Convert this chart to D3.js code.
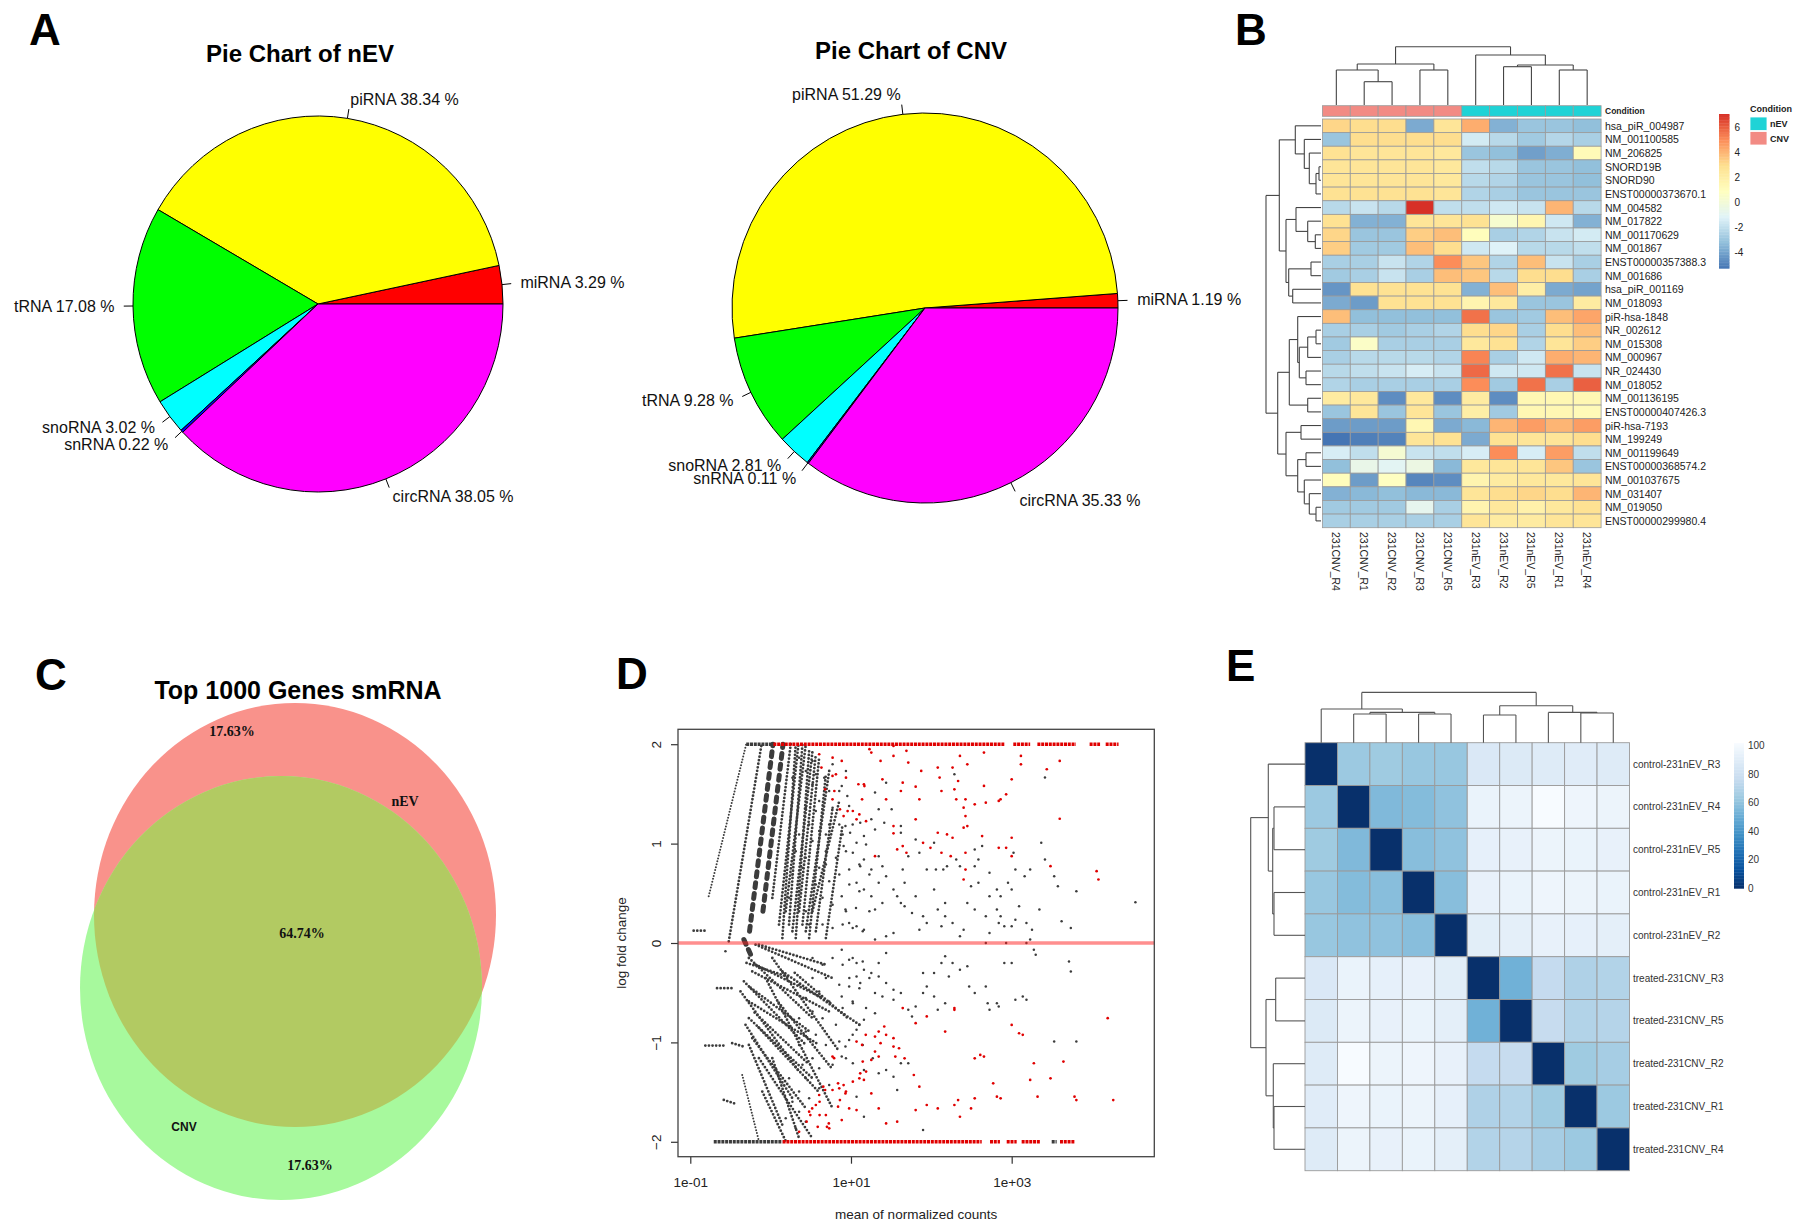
<!DOCTYPE html>
<html>
<head>
<meta charset="utf-8">
<script src="https://cdn.jsdelivr.net/npm/d3@7/dist/d3.min.js"></script>
<style>
html,body{margin:0;padding:0;background:#fff;}
svg{display:block;font-family:"Liberation Sans",Arial,Helvetica,sans-serif;}
</style>
</head>
<body>
<svg id="fig" width="1800" height="1228" viewBox="0 0 1800 1228"></svg>
<script>
// ================= DATA =================
// Panel A – pie charts
const pieCategories = ["miRNA","piRNA","tRNA","snoRNA","snRNA","circRNA"];
const pieColors = ["#FF0000","#FFFF00","#00FF00","#00FFFF","#0000FF","#FF00FF"];
const nEVPercent = [3.29, 38.34, 17.08, 3.02, 0.22, 38.05];
const CNVPercent = [1.19, 51.29, 9.28, 2.81, 0.11, 35.33];

// Panel B – heatmap of top genes
const bColumns = ["231CNV_R4","231CNV_R1","231CNV_R2","231CNV_R3","231CNV_R5","231nEV_R3","231nEV_R2","231nEV_R5","231nEV_R1","231nEV_R4"];
const bCondition = ["CNV","CNV","CNV","CNV","CNV","nEV","nEV","nEV","nEV","nEV"];
const bRows = ["hsa_piR_004987","NM_001100585","NM_206825","SNORD19B","SNORD90","ENST00000373670.1","NM_004582","NM_017822","NM_001170629","NM_001867","ENST00000357388.3","NM_001686","hsa_piR_001169","NM_018093","piR-hsa-1848","NR_002612","NM_015308","NM_000967","NR_024430","NM_018052","NM_001136195","ENST00000407426.3","piR-hsa-7193","NM_199249","NM_001199649","ENST00000368574.2","NM_001037675","NM_031407","NM_019050","ENST00000299980.4"];
const bValues = [
 [3.2,3.0,3.0,-3.8,2.6,4.2,-3.6,-3.0,-3.0,-3.2],
 [-3.0,3.0,3.0,3.0,3.0,-1.5,-2.2,-2.8,-2.3,-2.6],
 [2.8,2.6,2.6,2.6,2.4,-3.0,-3.2,-4.1,-3.7,1.2],
 [2.6,2.6,2.6,2.6,2.4,-2.0,-2.2,-3.0,-3.0,-3.2],
 [2.6,2.6,2.6,2.6,2.4,-2.2,-2.4,-3.0,-3.0,-3.2],
 [2.8,2.8,2.8,2.8,2.6,-2.4,-2.6,-3.0,-3.0,-3.0],
 [-2.2,-1.8,-2.2,7.06,-2.0,-2.0,-1.6,-1.8,4.0,-2.2],
 [2.8,-3.6,-3.6,2.6,2.6,2.8,0.3,1.5,-1.6,-3.6],
 [3.2,-3.0,-3.0,3.4,3.8,1.0,-2.6,-2.4,-1.8,-1.5],
 [3.4,-2.8,-2.8,3.8,3.0,-1.6,-1.2,-2.2,-2.2,-2.0],
 [-2.6,-2.6,-1.8,-2.4,5.0,3.6,-2.4,3.8,-1.8,-2.6],
 [-2.8,-2.6,-1.8,-2.6,3.8,3.6,-2.2,3.0,3.0,-2.6],
 [-4.4,2.8,2.8,2.8,2.8,-3.6,3.8,2.0,-3.8,-4.0],
 [-3.8,-4.2,2.8,2.8,2.8,1.6,2.4,-3.0,-3.0,2.2],
 [3.8,-3.2,-3.2,-3.2,-3.2,5.6,-3.0,-2.8,3.8,4.4],
 [-2.6,-2.6,-2.8,-2.6,-2.4,3.0,3.2,-2.6,3.0,3.8],
 [-2.8,0.6,-2.6,-2.6,-2.6,2.4,2.8,-2.4,2.6,3.4],
 [-2.6,-2.2,-2.2,-2.2,-2.4,5.2,-2.6,-1.6,4.2,4.0],
 [-2.2,-2.0,-1.8,-1.4,-1.8,5.8,-1.6,-1.6,5.6,-1.8],
 [-2.4,-2.6,-2.6,-2.6,-2.6,5.0,-2.8,5.6,-2.6,6.0],
 [2.2,2.4,-4.6,2.4,-4.6,2.2,-4.6,1.4,1.4,1.4],
 [-3.0,2.6,-3.0,2.6,-3.0,2.0,-2.8,1.4,1.4,1.2],
 [-4.2,-4.2,-4.2,1.4,-3.8,-3.4,4.0,4.6,4.0,4.6],
 [-5.28,-5.0,-4.9,2.6,2.8,-3.8,2.8,2.6,2.6,3.0],
 [-1.4,-2.0,0.2,-1.8,-2.0,-1.4,5.0,-1.4,4.6,-2.0],
 [-3.2,-0.6,-1.0,-0.4,-3.4,2.4,2.6,2.6,3.6,-3.0],
 [1.0,-4.2,0.8,-4.8,-4.6,1.6,2.2,2.4,2.4,2.6],
 [-3.6,-3.4,-3.2,-3.4,-3.4,2.6,3.0,3.2,3.0,4.0],
 [-2.8,-2.8,-2.8,-0.8,-2.6,1.6,2.4,1.8,2.4,2.8],
 [-2.6,-2.6,-2.6,-2.6,-2.6,2.6,2.2,2.2,2.6,2.6]
];
const bLegendTicks = [-4,-2,0,2,4,6];
// dendrograms: [height, left, right]; leaves are indices
const bColTree = [58.3, [41, [35, 0, [23.3, 1, 2]], [35, 3, 4]], [50, 5, [40, [38.3, 6, 7], [35, 8, 9]]]];
const bRowTree = [55,
  [41.7,
    [25.7, 0, [16.7, 1, [11.7, 2, [5, [2, 3, 4], 5]]]],
    [35, [25, 6, [13.3, 7, [5.7, 8, 9]]], [32.3, [10, 10, 11], [28.3, 12, 13]]]],
  [43.3,
    [31.7, [23.3, 14, [21.7, [13.3, [5, 15, 16], 17], [15, 18, 19]]], [13.3, 20, 21]],
    [35, [20, 22, 23], [23.3, [15, 24, 25], [16.7, 26, [11.7, 27, [5, 28, 29]]]]]]];

// Panel C – Venn
const vennSets = ["nEV","CNV"];
const vennPercent = [17.63, 64.74, 17.63]; // nEV only, shared, CNV only

// Panel D – MA plot (each point: [log10 mean of normalized counts, log fold change])
const maGray = [
 [3.414,1.664],[3.023,0.908],[3.414,0.840],[3.529,0.672],[3.575,0.571],[3.805,0.521],[4.540,0.410],[3.621,0.218],[3.736,0.151],[3.230,0.739],[3.161,0.672],[3.046,0.739],[2.954,0.605],[3.000,0.538],[2.816,0.538],[2.724,0.706],[2.540,0.773],[2.586,0.605],[2.494,0.571],[2.862,0.471],[2.724,0.471],[2.816,0.336],[2.862,0.269],[2.908,0.168],[3.000,0.168],[3.046,0.235],[3.092,0.370],[3.184,0.202],[3.253,0.134],[3.230,0.034],[3.345,0.336],[3.368,1.008],[2.678,0.269],[2.540,0.336],[2.448,0.403],[2.356,0.067],[2.264,0.202],[2.172,0.269],[2.172,0.403],[2.080,0.336],[2.034,0.538],[2.356,0.773],[2.310,0.840],[2.195,0.773],[2.149,0.739],[2.057,0.739],[2.034,1.008],[1.943,0.739],[1.851,0.908],[1.713,0.874],[1.805,1.042],[1.667,0.605],[1.644,0.739],[1.805,0.471],[1.897,0.269],[1.943,0.202],[1.851,0.134],[1.759,0.303],[1.667,0.370],[1.621,0.403],[1.529,0.538],[1.575,0.471],[1.529,0.101],[1.437,0.067],[1.299,0.034],[1.161,0.134],[1.069,0.168],[0.977,0.202],[0.931,0.336],[0.885,0.471],[1.253,0.471],[1.299,0.336],[1.391,0.403],[1.345,0.605],[1.437,0.672],[1.391,0.773],[1.345,0.874],[1.253,0.739],[1.161,0.538],[1.069,0.605],[0.977,0.739],[1.115,0.773],[1.161,0.840],[1.023,0.908],[0.908,0.975],[1.069,1.008],[1.161,1.076],[0.989,1.109],[1.115,1.210],[0.931,1.176],[0.977,1.378],[0.954,1.479],[0.885,1.580],[1.299,1.143],[1.253,1.244],[1.414,1.210],[1.506,1.345],[1.345,1.345],[1.299,1.513],[1.437,1.613],[1.621,1.176],[1.621,1.109],[2.632,0.975],[2.586,0.840],[2.724,0.101],[2.839,0.202],[2.931,0.000],[3.184,0.000],[2.678,0.000],[2.287,1.697],[2.126,0.168],[2.402,0.134],[2.540,0.941],
 [0.885,-0.067],[0.977,-0.168],[1.069,-0.202],[1.161,-0.269],[1.069,-0.336],[0.977,-0.437],[0.885,-0.538],[1.023,-0.605],[1.115,-0.403],[1.253,-0.303],[1.345,-0.202],[1.437,-0.101],[1.345,-0.336],[1.437,-0.403],[1.299,-0.504],[1.391,-0.538],[1.529,-0.471],[1.529,-0.571],[1.621,-0.504],[1.713,-0.672],[1.759,-0.739],[1.805,-0.639],[1.897,-0.504],[1.943,-0.437],[2.034,-0.538],[2.080,-0.672],[2.172,-0.605],[2.218,-0.336],[2.264,-0.202],[2.356,-0.269],[2.448,-0.235],[2.471,-0.437],[2.540,-0.504],[2.678,-0.437],[2.701,-0.605],[2.816,-0.605],[2.908,-0.202],[3.000,-0.202],[3.046,-0.571],[3.138,-0.538],[3.184,-0.571],[3.276,-0.067],[3.299,-0.118],[3.713,-0.185],[3.736,-0.286],[3.529,-0.992],[3.805,-0.992],[2.724,-0.672],[2.839,-0.639],[1.897,-0.303],[2.034,-0.303],[2.126,-0.202],[2.172,-0.134],[1.299,-0.706],[1.161,-0.773],[1.069,-0.874],[0.977,-0.975],[0.931,-1.042],[0.885,-1.143],[1.023,-1.210],[1.161,-1.277],[1.345,-1.311],[1.437,-1.277],[1.529,-1.345],[1.621,-1.210],[1.713,-1.210],[1.897,-1.882],[1.575,-1.479],[1.069,-1.546],[1.161,-1.748],
 [0.521,1.596],[0.604,1.428],[0.667,1.663],[0.729,1.193],[0.771,1.361],[0.854,1.529],[0.896,1.092],[0.9375,0.924],[0.8125,0.857],[0.6875,0.924],[0.604,0.756],[0.729,0.622],[0.854,0.689],[0.979,0.588],[1.104,0.521],[1.0625,0.353],[0.9375,0.319],[0.771,0.386],[0.646,0.454],[0.5625,0.588],[0.521,1.025],[0.479,1.193],[0.4375,1.361],[0.5625,1.327],[0.6875,1.092],[0.854,1.193],[1.021,1.193],[1.104,0.790],[1.1875,0.991],[1.229,0.689],[0.646,0.185],[0.771,0.151],[0.896,0.185],[1.021,0.151],[1.146,0.118],[1.229,0.319],[0.4375,0.319],[0.479,0.185],[0.354,0.521],[0.396,0.756],[0.3125,0.924],[0.354,1.092],[0.4375,0.857],[0.271,0.689],[0.229,0.454],[0.5625,1.697],[0.771,1.798],[0.9375,1.731],[0.729,1.529],[0.604,1.126],[0.6875,0.790],[0.354,1.865],[0.4375,1.731],[0.271,1.663],[0.521,1.831],
 [0.521,-0.151],[0.646,-0.218],[0.771,-0.151],[0.896,-0.218],[1.021,-0.151],[1.146,-0.185],[0.6875,-0.353],[0.854,-0.420],[0.979,-0.353],[1.104,-0.454],[0.604,-0.487],[0.729,-0.588],[0.896,-0.655],[1.021,-0.588],[0.521,-0.689],[0.646,-0.756],[0.8125,-0.823],[0.5625,-0.924],[0.6875,-1.025],[0.854,-0.991],[0.9375,-1.159],[0.771,-1.226],[0.604,-1.260],[0.521,-1.159],[0.4375,-1.361],[0.604,-1.462],[0.729,-1.428],[0.479,-1.5625],[0.354,-1.495],[0.354,-1.697],[0.4375,-1.798],[0.3125,-1.865],[0.1875,-1.764],[0.271,-1.596],[0.229,-1.361],[0.396,-1.226],[0.354,-1.025],[0.4375,-0.890],[0.354,-0.756],[0.4375,-0.554],[0.354,-0.420],[0.521,-0.353],[1.229,-0.353],[1.1875,-0.655],[1.104,-0.823],[1.146,-1.025],[1.021,-0.924],[1.271,-1.159],[-0.5625,-0.084]
];
const maRed = [
 [0.885,1.832],[0.770,1.681],[0.632,1.765],[0.678,1.546],[0.793,1.529],[0.770,1.445],[0.908,1.277],[0.862,1.345],[1.023,1.328],[1.069,1.244],[1.138,1.445],[1.161,1.597],[1.230,1.950],[1.368,1.832],[1.391,1.647],[1.529,1.983],[1.529,1.882],[1.690,1.933],[1.713,1.815],[1.874,1.731],[2.080,1.765],[2.103,1.664],[2.264,1.765],[2.333,1.630],[2.356,1.882],[2.448,1.798],[2.655,1.916],[2.655,1.580],[2.862,1.445],[2.931,1.496],[3.000,1.647],[3.115,1.882],[3.115,1.798],[3.598,1.832],[3.437,1.748],[1.253,1.916],[1.092,1.597],[1.437,1.445],[1.621,1.529],[1.644,1.613],[1.805,1.573],[1.851,1.445],[2.126,1.529],[2.287,1.546],[2.310,1.445],[2.402,1.361],[2.425,1.277],[2.448,1.176],[2.540,1.395],[2.678,1.412],[2.839,1.429],[2.425,1.445],[1.805,1.244],[1.529,1.176],[1.529,1.103],[1.644,0.975],[1.690,0.908],[1.575,0.941],[1.897,1.008],[1.989,0.958],[2.080,1.109],[2.126,0.908],[2.195,1.092],[2.264,1.059],[2.241,0.874],[2.402,1.160],[2.425,0.908],[2.425,0.739],[2.402,0.639],[2.632,1.076],[2.839,0.958],[2.931,0.958],[3.000,1.059],[3.000,0.874],[3.483,0.773],[4.057,0.723],[4.080,0.639],[1.299,0.874],[3.598,1.250],
 [0.604,1.899],[0.771,1.865],[0.8125,1.697],[0.9375,1.663],[1.167,1.579],[1.104,1.294],[1.1875,1.226],[0.958,1.327],
 [1.644,-0.655],[1.805,-0.807],[1.943,-0.739],[2.287,-0.672],[2.172,-0.891],[1.184,-0.924],[1.299,-0.941],[1.345,-0.891],[1.414,-0.840],[1.437,-0.924],[1.368,-1.008],[1.299,-1.092],[1.253,-1.176],[1.345,-1.143],[1.529,-0.958],[1.529,-1.042],[1.598,-1.059],[1.667,-1.160],[1.552,-1.143],[1.069,-0.992],[1.138,-1.025],[0.770,-1.143],[0.678,-1.479],[0.770,-1.479],[0.839,-1.412],[0.908,-1.429],[0.862,-1.580],[0.839,-1.647],[0.724,-1.815],[0.609,-1.731],[0.494,-1.731],[0.448,-1.798],[0.609,-1.597],[0.586,-1.849],[0.701,-1.849],[0.885,-1.782],[0.977,-1.664],[1.069,-1.681],[1.161,-1.378],[1.115,-1.311],[1.253,-1.513],[1.345,-1.664],[1.437,-1.815],[1.575,-1.798],[1.805,-1.681],[1.851,-1.445],[1.782,-1.328],[1.943,-1.630],[2.080,-1.664],[2.287,-1.630],[2.333,-1.580],[2.356,-1.748],[2.494,-1.664],[2.540,-1.160],[2.609,-1.126],[2.655,-1.143],[2.540,-1.563],[2.770,-1.412],[2.816,-1.546],[2.862,-1.563],[3.276,-1.210],[3.322,-1.546],[3.230,-1.378],[3.483,-1.361],[3.644,-1.193],[3.782,-1.546],[3.805,-1.580],[4.264,-1.580],[4.195,-0.756],[3.000,-0.824],[3.092,-0.908],[3.138,-0.924],[2.287,-0.655],[0.517,-1.664],[0.655,-1.445],[0.931,-1.513],[1.023,-1.395],
 [0.79,-1.159],[0.479,-1.697],[0.5625,-1.630],[0.6875,-1.731],[0.729,-1.865],[0.354,-1.899],[0.604,-1.529],[0.854,-1.462],[0.9375,-1.495],[1.104,-1.361],[1.146,-1.193],[1.1875,-1.294]
];
// dense low-count streaks of gray points: [log10 mean start, lfc start, log10 mean end, lfc end]
const maStreaksThin = [
 [-0.771,0.470,-0.304,2.0],[-0.354,-1.327,-0.146,-1.993]
];
const maStreaksMid = [
 [-0.521,0.017,-0.1125,2.0],[0.021,0.453,0.25,2.0],[0.104,0.185,0.346,2.0],[0.1875,0.319,0.4375,2.0],[0.271,0.118,0.521,1.93],[0.396,0.185,0.604,1.865],
 [0.4375,0.118,0.729,1.731],[0.521,0.319,0.854,1.428],
 [0.146,0.050,0.3125,2.0],[0.229,0.185,0.396,2.0],[0.3125,0.050,0.479,1.932],[0.354,0.319,0.5625,1.899],[0.479,0.050,0.6875,1.697],[0.5625,0.118,0.771,1.361],[0.6875,0.050,0.896,1.193],
 [-0.271,-0.151,0.521,-0.756],[-0.333,-0.386,0.4375,-1.025],[-0.375,-0.487,0.354,-1.294],[-0.3125,-0.823,0.271,-1.5625],[-0.271,-1.025,0.146,-1.831],[-0.1875,-0.218,0.646,-0.554],[-0.146,-0.017,0.6875,-0.218],
 [0.021,-0.151,0.854,-1.092],[0.146,-0.286,1.104,-0.823],[-0.146,-1.159,0.521,-1.966],[-0.0625,-0.353,0.771,-1.663],
 [-0.1875,-0.017,0.771,-0.353],[-0.229,-0.286,0.729,-0.689],[-0.271,-0.588,0.604,-1.025],[-0.271,-0.756,0.521,-1.361],[-0.229,-0.958,0.4375,-1.663],[0.021,-1.159,0.354,-1.966],[-0.104,-1.495,0.1875,-1.993],
 [-0.30,-0.20,0.25,-0.35],[-0.25,-0.45,0.50,-0.90],[-0.20,-0.70,0.45,-1.20],[-0.15,-0.85,0.60,-1.50],[0.10,-0.60,0.75,-1.25],[0.30,-0.30,0.95,-0.75],
 [-0.958,0.124,-0.8125,0.124],[-0.667,-0.454,-0.479,-0.454],[-0.8125,-1.032,-0.583,-1.032],[-0.479,-1.008,-0.3125,-1.048],[-0.583,-1.579,-0.417,-1.623]
];
const maStreaksWide = [
 [-0.2625,0.118,0.029,2.0],[-0.096,0.319,0.154,2.0],[-0.333,0.034,-0.229,-0.151]
];
// points beyond the y-range, drawn on the ±2 border: [log10 mean start, log10 mean end]
const maCapTopGray = [[-0.304,0.029]];
const maCapTopRed = [[0.034,2.908],[3.02,3.23],[3.32,3.80],[3.97,4.10],[4.17,4.33]];
const maCapBottomGray = [[-0.708,0.146],[3.498,3.56]];
const maCapBottomRed = [[0.149,2.627],[2.73,2.854],[2.938,3.062],[3.124,3.352],[3.601,3.788]];
const maXTicks = [0.1, 10, 1000];
const maYTicks = [-2,-1,0,1,2];

// Panel E – sample distance heatmap
const eSamples = ["control-231nEV_R3","control-231nEV_R4","control-231nEV_R5","control-231nEV_R1","control-231nEV_R2","treated-231CNV_R3","treated-231CNV_R5","treated-231CNV_R2","treated-231CNV_R1","treated-231CNV_R4"];
const eDistances = [
 [0,63,64,62,62,87,88,89,90,89],
 [63,0,56,57,60,95,96,101.7,97,96],
 [64,56,0,58,60,93,94,96,95,94],
 [62,57,58,0,58,94,95,97,96,95],
 [62,60,60,58,0,91,92,94,93,92],
 [87,95,93,94,91,0,52,76,69,70],
 [88,96,94,95,92,52,0,77,70,71],
 [89,101.7,96,97,94,76,77,0,64,66],
 [90,97,95,96,93,69,70,64,0,63],
 [89,96,94,95,92,70,71,66,63,0]
];
const eLegendTicks = [0,20,40,60,80,100];
const eRowTree = [54.3, [36.7, 0, [32.3, [31, 1, 2], [31, 3, 4]]], [39, [29.3, 5, 6], [31.7, 7, [31, 8, 9]]]];
const eColTree = [50.3, [33.7, 0, [30.3, [28.7, 1, 2], [28.7, 3, 4]]], [37, [27.7, 5, 6], [30.3, 7, [29.7, 8, 9]]]];

const panelLetters = ["A","B","C","D","E"];

// ================= DRAWING =================
const svg = d3.select("#fig");
svg.append("rect").attr("width",1800).attr("height",1228).attr("fill","#fff");

const letterPos = [[29,45],[1235,45],[35,690],[616,689],[1226,681]];
svg.selectAll("text.plabel").data(panelLetters).join("text")
  .attr("class","plabel").attr("x",(d,i)=>letterPos[i][0]).attr("y",(d,i)=>letterPos[i][1])
  .attr("font-size",44).attr("font-weight","bold").attr("fill","#000").text(d=>d);

// ---------- Panel A ----------
function drawPie(values, cx, cy, rx, ry, title, tx, ty) {
  const g = svg.append("g");
  const pie = d3.pie().sort(null).startAngle(Math.PI/2).endAngle(Math.PI/2 - 2*Math.PI);
  const arcs = pie(values);
  const arc = d3.arc().innerRadius(0).outerRadius(rx);
  g.append("g").attr("transform",`translate(${cx},${cy}) scale(1,${ry/rx})`)
    .selectAll("path").data(arcs).join("path")
    .attr("d",arc).attr("fill",(d,i)=>pieColors[i])
    .attr("stroke","#000").attr("stroke-width",1).attr("vector-effect","non-scaling-stroke");
  arcs.forEach((a,i)=>{
    const phi = Math.PI/2 - (a.startAngle + a.endAngle)/2;
    const c = Math.cos(phi), s = Math.sin(phi);
    g.append("line").attr("x1",cx+rx*c).attr("y1",cy-ry*s).attr("x2",cx+1.05*rx*c).attr("y2",cy-1.05*ry*s)
      .attr("stroke","#000").attr("stroke-width",1);
    g.append("text").attr("x",cx+1.1*rx*c).attr("y",cy-1.1*ry*s)
      .attr("text-anchor", c<0 ? "end" : "start").attr("dominant-baseline","central")
      .attr("font-size",16).attr("fill","#111")
      .text(`${pieCategories[i]} ${values[i].toFixed(2)} %`);
  });
  g.append("text").attr("x",tx).attr("y",ty).attr("text-anchor","middle")
    .attr("font-size",24).attr("font-weight","bold").text(title);
}
drawPie(nEVPercent, 318, 304, 185, 188, "Pie Chart of nEV", 300, 62);
drawPie(CNVPercent, 925, 308, 193, 195, "Pie Chart of CNV", 911, 59);

// ---------- Dendrogram helper ----------
function drawDendro(g, tree, leafPos, hScale, orient) {
  function walk(node) {
    if (!Array.isArray(node)) return {p: leafPos(node), h: 0};
    const [h, a, b] = node;
    const A = walk(a), B = walk(b);
    const segs = [[A.p,A.h,A.p,h],[B.p,B.h,B.p,h],[A.p,h,B.p,h]];
    segs.forEach(([p1,h1,p2,h2])=>{
      const l = g.append("line");
      if (orient === "top") l.attr("x1",p1).attr("y1",hScale(h1)).attr("x2",p2).attr("y2",hScale(h2));
      else l.attr("x1",hScale(h1)).attr("y1",p1).attr("x2",hScale(h2)).attr("y2",p2);
    });
    return {p:(A.p+B.p)/2, h};
  }
  walk(tree);
}

// ---------- Panel B ----------
(function(){
  const g = svg.append("g");
  const nR = bRows.length, nC = bColumns.length;
  const x = d3.scaleBand().domain(d3.range(nC)).range([1322.4,1601.1]);
  const y = d3.scaleBand().domain(d3.range(nR)).range([119,527.7]);
  const ext = d3.extent(bValues.flat());
  const pal = ["#4575B4","#91BFDB","#E0F3F8","#FFFFBF","#FEE090","#FC8D59","#D73027"];
  const color = d3.scaleLinear().domain(pal.map((c,i)=>ext[0]+i*(ext[1]-ext[0])/(pal.length-1))).range(pal);
  const condColor = d3.scaleOrdinal().domain(["nEV","CNV"]).range(["#1FD3D6","#F28B84"]);
  const cells = [];
  bValues.forEach((row,r)=>row.forEach((v,c)=>cells.push({r,c,v})));
  g.selectAll("rect.cell").data(cells).join("rect").attr("class","cell")
    .attr("x",d=>x(d.c)).attr("y",d=>y(d.r)).attr("width",x.bandwidth()).attr("height",y.bandwidth())
    .attr("fill",d=>color(d.v)).attr("stroke","#9a9a9a").attr("stroke-width",0.8);
  g.selectAll("rect.ann").data(bCondition).join("rect").attr("class","ann")
    .attr("x",(d,i)=>x(i)).attr("y",105.7).attr("width",x.bandwidth()).attr("height",10.6)
    .attr("fill",d=>condColor(d)).attr("stroke","#9a9a9a").attr("stroke-width",0.8);
  g.append("text").attr("x",1605).attr("y",111).attr("dominant-baseline","central")
    .attr("font-size",8.5).attr("font-weight","bold").attr("fill","#222").text("Condition");
  g.selectAll("text.rl").data(bRows).join("text").attr("class","rl")
    .attr("x",1605).attr("y",(d,i)=>y(i)+y.bandwidth()/2).attr("dominant-baseline","central")
    .attr("font-size",10.5).attr("fill","#222").text(d=>d);
  g.selectAll("text.cl").data(bColumns).join("text").attr("class","cl")
    .attr("transform",(d,i)=>`translate(${x(i)+x.bandwidth()/2},532) rotate(90)`)
    .attr("dominant-baseline","central").attr("font-size",10.5).attr("fill","#222").text(d=>d);
  const dg = g.append("g").attr("stroke","#444").attr("stroke-width",1.1).attr("fill","none");
  drawDendro(dg, bColTree, i=>x(i)+x.bandwidth()/2, d3.scaleLinear().domain([0,58.3]).range([105,46.7]), "top");
  drawDendro(dg, bRowTree, i=>y(i)+y.bandwidth()/2, d3.scaleLinear().domain([0,55]).range([1321,1266]), "left");
  const ly = d3.scaleLinear().domain(ext).range([268.3,114]);
  const steps = d3.range(100).map(i=>ext[0]+i*(ext[1]-ext[0])/100);
  const stepH = (268.3-114)/100;
  g.selectAll("rect.leg").data(steps).join("rect").attr("class","leg")
    .attr("x",1719).attr("y",d=>ly(d)-stepH).attr("width",10.5).attr("height",stepH+0.4)
    .attr("fill",d=>color(d+(ext[1]-ext[0])/200));
  const la = g.append("g").attr("transform","translate(1729.5,0)")
    .call(d3.axisRight(ly).tickValues(bLegendTicks).tickSize(0).tickPadding(5).tickFormat(d=>d));
  la.select(".domain").remove();
  la.selectAll("text").attr("font-size",10).attr("fill","#222").attr("font-family","Liberation Sans, Arial, sans-serif");
  g.append("text").attr("x",1750).attr("y",109).attr("dominant-baseline","central")
    .attr("font-size",9).attr("font-weight","bold").attr("fill","#222").text("Condition");
  ["nEV","CNV"].forEach((k,i)=>{
    g.append("rect").attr("x",1750).attr("y",117+i*14.5).attr("width",17).attr("height",13.5)
      .attr("fill",condColor(k)).attr("stroke","#fff").attr("stroke-width",0.8);
    g.append("text").attr("x",1770).attr("y",124+i*14.5).attr("dominant-baseline","central")
      .attr("font-size",9).attr("font-weight","bold").attr("fill","#222").text(k);
  });
})();

// ---------- Panel C ----------
(function(){
  const g = svg.append("g");
  const ellipses = [{cx:295,cy:915,rx:201,ry:212},{cx:281,cy:988,rx:201,ry:212}];
  const setColor = ["#F9928B","#A7F99D"];
  const defs = svg.append("defs");
  defs.append("clipPath").attr("id","clipNEV").append("ellipse")
    .attr("cx",ellipses[0].cx).attr("cy",ellipses[0].cy).attr("rx",ellipses[0].rx).attr("ry",ellipses[0].ry);
  g.selectAll("ellipse.set").data(vennSets).join("ellipse").attr("class","set")
    .attr("cx",(d,i)=>ellipses[i].cx).attr("cy",(d,i)=>ellipses[i].cy)
    .attr("rx",(d,i)=>ellipses[i].rx).attr("ry",(d,i)=>ellipses[i].ry)
    .attr("fill",(d,i)=>setColor[i]);
  g.append("ellipse").attr("clip-path","url(#clipNEV)")
    .attr("cx",ellipses[1].cx).attr("cy",ellipses[1].cy).attr("rx",ellipses[1].rx).attr("ry",ellipses[1].ry)
    .attr("fill","#B2CA62");
  const pctPos = [[232,731],[302,933],[310,1165]];
  g.selectAll("text.pct").data(vennPercent).join("text").attr("class","pct")
    .attr("x",(d,i)=>pctPos[i][0]).attr("y",(d,i)=>pctPos[i][1])
    .attr("text-anchor","middle").attr("dominant-baseline","central")
    .attr("font-family","Liberation Serif, Times New Roman, serif").attr("font-weight","bold")
    .attr("font-size",14).attr("fill","#111").text(d=>d.toFixed(2)+"%");
  g.append("text").attr("x",405).attr("y",801).attr("text-anchor","middle").attr("dominant-baseline","central")
    .attr("font-family","Liberation Serif, Times New Roman, serif").attr("font-weight","bold")
    .attr("font-size",14).attr("fill","#111").text(vennSets[0]);
  g.append("text").attr("x",184).attr("y",1127).attr("text-anchor","middle").attr("dominant-baseline","central")
    .attr("font-weight","bold").attr("font-size",12).attr("fill","#111").text(vennSets[1]);
  g.append("text").attr("x",298).attr("y",699).attr("text-anchor","middle")
    .attr("font-size",25).attr("font-weight","bold").text("Top 1000 Genes smRNA");
})();

// ---------- Panel D ----------
(function(){
  const g = svg.append("g");
  const L = 678, R = 1154.3, T = 729.3, B = 1156.7;
  const x = d3.scaleLog().domain([Math.pow(10,-1.153), Math.pow(10,4.775)]).range([L,R]);
  const y = d3.scaleLinear().domain([-2.15,2.15]).range([B,T]);
  const X = lg => x(Math.pow(10,lg));
  const gray = "#3c3c3c", red = "#E00000";
  const clip = svg.append("defs").append("clipPath").attr("id","clipMA");
  clip.append("rect").attr("x",L).attr("y",T).attr("width",R-L).attr("height",B-T);
  const pg = g.append("g").attr("clip-path","url(#clipMA)");
  pg.selectAll("line.sw").data(maStreaksWide).join("line").attr("class","sw")
    .attr("x1",d=>X(d[0])).attr("y1",d=>y(d[1])).attr("x2",d=>X(d[2])).attr("y2",d=>y(d[3]))
    .attr("stroke",gray).attr("stroke-width",5).attr("stroke-linecap","round").attr("stroke-dasharray","5 6");
  pg.selectAll("line.sm").data(maStreaksMid).join("line").attr("class","sm")
    .attr("x1",d=>X(d[0])).attr("y1",d=>y(d[1])).attr("x2",d=>X(d[2])).attr("y2",d=>y(d[3]))
    .attr("stroke",gray).attr("stroke-width",2.8).attr("stroke-linecap","round").attr("stroke-dasharray","0 3.6");
  pg.selectAll("line.st").data(maStreaksThin).join("line").attr("class","st")
    .attr("x1",d=>X(d[0])).attr("y1",d=>y(d[1])).attr("x2",d=>X(d[2])).attr("y2",d=>y(d[3]))
    .attr("stroke",gray).attr("stroke-width",2).attr("stroke-linecap","round").attr("stroke-dasharray","0 3");
  const caps = [[maCapTopGray,2,gray],[maCapBottomGray,-2,gray],[maCapTopRed,2,red],[maCapBottomRed,-2,red]];
  caps.forEach(([arr,v,col])=>{
    pg.selectAll(null).data(arr).join("line")
      .attr("x1",d=>X(d[0])).attr("x2",d=>X(d[1])).attr("y1",y(v)).attr("y2",y(v))
      .attr("stroke",col).attr("stroke-width",3.6).attr("stroke-dasharray","3 0.8");
  });
  pg.selectAll("circle.gp").data(maGray).join("circle").attr("class","gp")
    .attr("cx",d=>X(d[0])).attr("cy",d=>y(d[1])).attr("r",1.25).attr("fill",gray);
  pg.selectAll("circle.rp").data(maRed).join("circle").attr("class","rp")
    .attr("cx",d=>X(d[0])).attr("cy",d=>y(d[1])).attr("r",1.35).attr("fill",red);
  g.append("line").attr("x1",L).attr("x2",R).attr("y1",y(0)).attr("y2",y(0))
    .attr("stroke","#FF2020").attr("stroke-opacity",0.5).attr("stroke-width",3.5);
  const ax = g.append("g").attr("transform",`translate(0,${B})`)
    .call(d3.axisBottom(x).tickValues(maXTicks).tickSize(7).tickPadding(13.5).tickSizeOuter(0)
      .tickFormat(d=>d3.format(".0e")(d).replace(/e([+-])(\d)$/,"e$10$2")));
  const ay = g.append("g").attr("transform",`translate(${L},0)`)
    .call(d3.axisLeft(y).tickValues(maYTicks).tickSize(7).tickSizeOuter(0)
      .tickFormat(d=>d<0?"\u2212"+Math.abs(d):String(d)));
  [ax,ay].forEach(a=>{
    a.select(".domain").remove();
    a.selectAll("line").attr("stroke","#333").attr("stroke-width",1.2);
    a.selectAll("text").attr("font-size",13.5).attr("fill","#222").attr("font-family","Liberation Sans, Arial, sans-serif");
  });
  ay.selectAll("text").attr("transform","rotate(-90)").attr("x",0).attr("y",-17).attr("dy",0).attr("text-anchor","middle");
  g.append("rect").attr("x",L).attr("y",T).attr("width",R-L).attr("height",B-T)
    .attr("fill","none").attr("stroke","#444").attr("stroke-width",1.3);
  g.append("text").attr("transform",`translate(626,${(T+B)/2}) rotate(-90)`).attr("text-anchor","middle")
    .attr("font-size",13.5).attr("fill","#222").text("log fold change");
  g.append("text").attr("x",(L+R)/2).attr("y",1219).attr("text-anchor","middle")
    .attr("font-size",13.5).attr("fill","#222").text("mean of normalized counts");
})();

// ---------- Panel E ----------
(function(){
  const g = svg.append("g");
  const n = eSamples.length;
  const x = d3.scaleBand().domain(d3.range(n)).range([1305,1629.5]);
  const y = d3.scaleBand().domain(d3.range(n)).range([742.7,1170.7]);
  const maxV = d3.max(eDistances.flat());
  const blues = ["#08306B","#08519C","#2171B5","#4292C6","#6BAED6","#9ECAE1","#C6DBEF","#DEEBF7","#F7FBFF"];
  const color = d3.scaleLinear().domain(blues.map((c,i)=>i*maxV/(blues.length-1))).range(blues);
  const cells = [];
  eDistances.forEach((row,r)=>row.forEach((v,c)=>cells.push({r,c,v})));
  g.selectAll("rect.cell").data(cells).join("rect").attr("class","cell")
    .attr("x",d=>x(d.c)).attr("y",d=>y(d.r)).attr("width",x.bandwidth()).attr("height",y.bandwidth())
    .attr("fill",d=>color(d.v)).attr("stroke","#9a9a9a").attr("stroke-width",0.9);
  g.selectAll("text.rl").data(eSamples).join("text").attr("class","rl")
    .attr("x",1633).attr("y",(d,i)=>y(i)+y.bandwidth()/2).attr("dominant-baseline","central")
    .attr("font-size",10).attr("fill","#333").text(d=>d);
  const dg = g.append("g").attr("stroke","#555").attr("stroke-width",1.1).attr("fill","none");
  drawDendro(dg, eColTree, i=>x(i)+x.bandwidth()/2, d3.scaleLinear().domain([0,50.3]).range([742.7,692.4]), "top");
  drawDendro(dg, eRowTree, i=>y(i)+y.bandwidth()/2, d3.scaleLinear().domain([0,54.3]).range([1305,1250.7]), "left");
  const ly = d3.scaleLinear().domain([0,maxV]).range([888.3,743.3]);
  const steps = d3.range(100).map(i=>i*maxV/100);
  const stepH = (888.3-743.3)/100;
  g.selectAll("rect.leg").data(steps).join("rect").attr("class","leg")
    .attr("x",1734).attr("y",d=>ly(d)-stepH).attr("width",10).attr("height",stepH+0.4)
    .attr("fill",d=>color(d+maxV/200));
  const la = g.append("g").attr("transform","translate(1744,0)")
    .call(d3.axisRight(ly).tickValues(eLegendTicks).tickSize(0).tickPadding(4));
  la.select(".domain").remove();
  la.selectAll("text").attr("font-size",10).attr("fill","#333").attr("font-family","Liberation Sans, Arial, sans-serif");
})();
</script>
</body>
</html>
